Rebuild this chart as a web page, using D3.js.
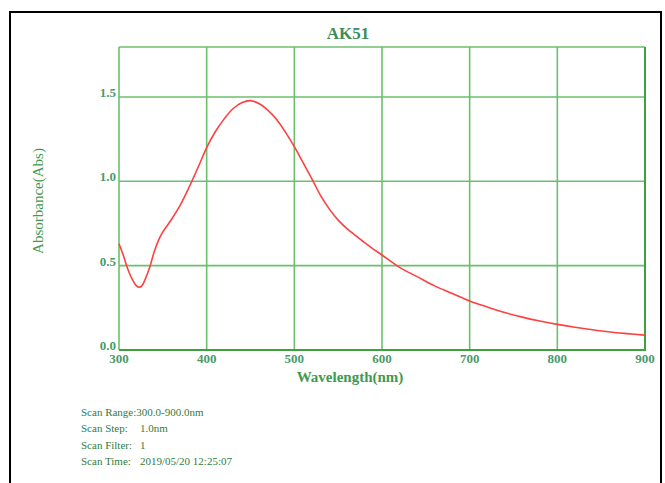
<!DOCTYPE html>
<html><head><meta charset="utf-8">
<script src="https://cdn.jsdelivr.net/npm/d3@7"></script>
<style>html,body{margin:0;padding:0;background:#fff;}svg{display:block;}</style>
</head><body>
<script>
const title = "AK51";
const xLabel = "Wavelength(nm)";
const yLabel = "Absorbance(Abs)";
const xTicks = [300, 400, 500, 600, 700, 800, 900];
const yTicks = [0.0, 0.5, 1.0, 1.5];
const wavelength = [300,305,310,315,320,323,326,330,335,340,345,350,360,370,380,390,400,410,420,430,440,450,460,470,480,490,500,510,520,530,540,550,560,570,580,590,600,620,640,660,680,700,720,740,760,780,800,820,840,860,880,900];
const absorbance = [0.63,0.56,0.48,0.42,0.38,0.372,0.38,0.42,0.49,0.58,0.65,0.70,0.775,0.86,0.965,1.08,1.20,1.295,1.37,1.43,1.465,1.478,1.46,1.42,1.365,1.29,1.205,1.11,1.015,0.915,0.835,0.77,0.72,0.678,0.637,0.598,0.563,0.49,0.435,0.38,0.335,0.29,0.255,0.222,0.195,0.172,0.152,0.135,0.12,0.107,0.097,0.088];
const scanLabels = ["Scan Range:", "Scan Step:", "Scan Filter:", "Scan Time:"];
const scanValues = ["300.0-900.0nm", "1.0nm", "1", "2019/05/20 12:25:07"];

const W = 665, H = 483;
const svg = d3.select("body").append("svg").attr("width", W).attr("height", H);
svg.append("rect").attr("width", W).attr("height", H).attr("fill", "#fff");
// outer black frame
svg.append("rect").attr("x", 10).attr("y", 12).attr("width", 651).attr("height", 500)
  .attr("fill", "none").attr("stroke", "#000").attr("stroke-width", 2);

const m = {left: 119, right: 645, top: 47, bottom: 350};
const x = d3.scaleLinear().domain([300, 900]).range([m.left, m.right]);
const y = d3.scaleLinear().domain([0, 1.796]).range([m.bottom, m.top]);

const gridCol = "#6cbf6c";
const axisCol = "#3ea13e";
const textCol = "#4a9a6a";
const serif = "'Liberation Serif', 'Times New Roman', serif";

// grid
svg.append("g").selectAll("line").data(xTicks.slice(1, -1)).join("line")
  .attr("x1", d => x(d)).attr("x2", d => x(d)).attr("y1", m.top).attr("y2", m.bottom)
  .attr("stroke", gridCol).attr("stroke-width", 1.6);
svg.append("g").selectAll("line").data(yTicks.slice(1)).join("line")
  .attr("x1", m.left).attr("x2", m.right).attr("y1", d => y(d)).attr("y2", d => y(d))
  .attr("stroke", gridCol).attr("stroke-width", 1.6);
// frame
svg.append("line").attr("x1", m.left).attr("x2", m.right).attr("y1", m.top).attr("y2", m.top)
  .attr("stroke", gridCol).attr("stroke-width", 1.6);
svg.append("line").attr("x1", m.left).attr("x2", m.left).attr("y1", m.top).attr("y2", m.bottom)
  .attr("stroke", gridCol).attr("stroke-width", 1.6);
svg.append("line").attr("x1", m.right).attr("x2", m.right).attr("y1", m.top).attr("y2", m.bottom + 1)
  .attr("stroke", axisCol).attr("stroke-width", 2);
svg.append("line").attr("x1", m.left).attr("x2", m.right + 1).attr("y1", m.bottom).attr("y2", m.bottom)
  .attr("stroke", axisCol).attr("stroke-width", 2.2);

// tick labels
svg.append("g").selectAll("text").data(xTicks).join("text")
  .attr("x", d => x(d)).attr("y", m.bottom + 13)
  .attr("text-anchor", "middle").attr("font-family", serif).attr("font-size", 13)
  .attr("font-weight", "bold").attr("fill", textCol).text(d => d);
svg.append("g").selectAll("text").data(yTicks).join("text")
  .attr("x", m.left - 3).attr("y", d => y(d) - 0)
  .attr("text-anchor", "end").attr("font-family", serif).attr("font-size", 13)
  .attr("font-weight", "bold").attr("fill", textCol).text(d => d.toFixed(1));

// curve
const line = d3.line().x(d => x(d[0])).y(d => y(d[1])).curve(d3.curveCatmullRom.alpha(0.5));
svg.append("path").datum(wavelength.map((w, i) => [w, absorbance[i]]))
  .attr("d", line).attr("fill", "none").attr("stroke", "#ff4040").attr("stroke-width", 1.6);

// title & axis labels
svg.append("text").attr("x", 348).attr("y", 39).attr("text-anchor", "middle")
  .attr("font-family", serif).attr("font-size", 17).attr("font-weight", "bold")
  .attr("fill", "#3d8c5a").text(title);
svg.append("text").attr("x", 350).attr("y", 382).attr("text-anchor", "middle")
  .attr("font-family", serif).attr("font-size", 15).attr("font-weight", "bold")
  .attr("fill", "#3f9a50").text(xLabel);
svg.append("text").attr("transform", "translate(43,201) rotate(-90)").attr("text-anchor", "middle")
  .attr("font-family", serif).attr("font-size", 15)
  .attr("fill", "#3f9a50").text(yLabel);

// scan info
const infoY = [416, 432, 449, 465];
const info = svg.append("g").attr("font-family", serif).attr("font-size", 11).attr("fill", "#2f7d3f");
scanLabels.forEach((t, i) => {
  if (i === 0) {
    info.append("text").attr("x", 81).attr("y", infoY[i]).text(t + scanValues[i]);
  } else {
    info.append("text").attr("x", 81).attr("y", infoY[i]).text(t);
    info.append("text").attr("x", 140).attr("y", infoY[i]).text(scanValues[i]);
  }
});
</script>
</body></html>
